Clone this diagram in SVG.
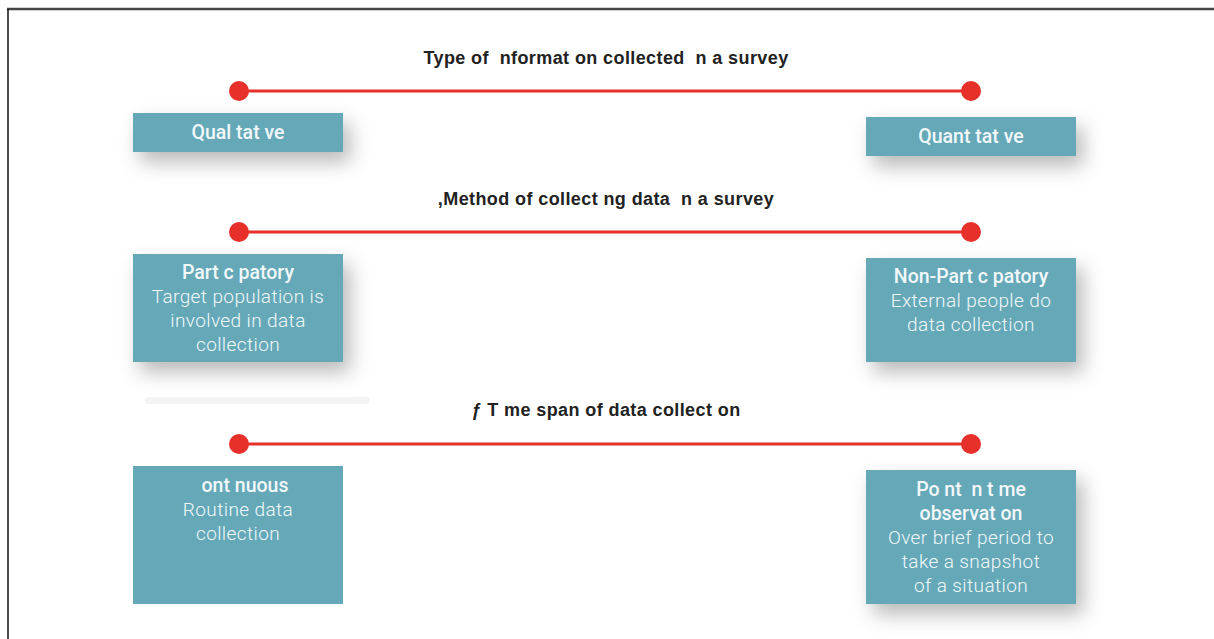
<svg xmlns="http://www.w3.org/2000/svg" width="1214" height="639" viewBox="0 0 1214 639">
<defs>
<filter id="sh" x="-50%" y="-100%" width="200%" height="300%">
<feDropShadow dx="7" dy="10" stdDeviation="10" flood-color="#000" flood-opacity="0.28"/>
</filter>
<style>
text{white-space:pre}
.title{font-family:"Liberation Sans",Arial,sans-serif;font-weight:bold;font-size:18px;fill:#222;text-anchor:middle;letter-spacing:0.4px}
.box{fill:#65A8B8}
.hd{font-family:Roboto,"Open Sans",sans-serif;font-weight:500;font-size:19.5px;fill:#F2F8FA;text-anchor:middle}
.bd{font-family:Roboto,"Open Sans",sans-serif;font-weight:300;font-size:19px;fill:#F2F8FA;text-anchor:middle;letter-spacing:0.4px}
.ln{stroke:#E8302A;stroke-width:3}
.dot{fill:#E8302A}
</style>
</defs>
<rect width="1214" height="639" fill="#fff"/>
<line x1="7" y1="9" x2="1214" y2="9" stroke="#444" stroke-width="2.5"/>
<line x1="8" y1="9" x2="8" y2="639" stroke="#111" stroke-width="1.5"/>
<rect x="145" y="397" width="225" height="7" rx="3.5" fill="#f4f4f4"/>
<g id="connectors">
<line class="ln" x1="239" y1="91" x2="971" y2="91"/>
<circle class="dot" cx="239" cy="91" r="10"/>
<circle class="dot" cx="971" cy="91" r="10"/>
<line class="ln" x1="239" y1="232" x2="971" y2="232"/>
<circle class="dot" cx="239" cy="232" r="10"/>
<circle class="dot" cx="971" cy="232" r="10"/>
<line class="ln" x1="239" y1="444" x2="971" y2="444"/>
<circle class="dot" cx="239" cy="444" r="10"/>
<circle class="dot" cx="971" cy="444" r="10"/>
</g>
<g id="title1"><text class="title" x="606" y="64" xml:space="preserve">Type of  nformat on collected  n a survey</text></g>
<g id="title2"><text class="title" x="606" y="205" xml:space="preserve">,Method of collect ng data  n a survey</text></g>
<g id="title3"><text class="title" x="606" y="416" xml:space="preserve">ƒ T me span of data collect on</text></g>
<g id="qualitative">
<rect class="box" x="133" y="113" width="210" height="39" filter="url(#sh)"/>
<text class="hd" x="238" y="139">Qual tat ve</text>
</g>
<g id="quantitative">
<rect class="box" x="866" y="117" width="210" height="39" filter="url(#sh)"/>
<text class="hd" x="971" y="143">Quant tat ve</text>
</g>
<g id="participatory">
<rect class="box" x="133" y="254" width="210" height="108" filter="url(#sh)"/>
<text class="hd" x="238" y="279">Part c patory</text>
<text class="bd" x="238" y="303">Target population is</text>
<text class="bd" x="238" y="327">involved in data</text>
<text class="bd" x="238" y="351">collection</text>
</g>
<g id="nonparticipatory">
<rect class="box" x="866" y="258" width="210" height="104" filter="url(#sh)"/>
<text class="hd" x="971" y="283">Non-Part c patory</text>
<text class="bd" x="971" y="307">External people do</text>
<text class="bd" x="971" y="331">data collection</text>
</g>
<g id="continuous">
<rect class="box" x="133" y="466" width="210" height="138"/>
<text class="hd" x="245" y="492">ont nuous</text>
<text class="bd" x="238" y="516">Routine data</text>
<text class="bd" x="238" y="540">collection</text>
</g>
<g id="pointintime">
<rect class="box" x="866" y="470" width="210" height="134" filter="url(#sh)"/>
<text class="hd" x="971" y="496" xml:space="preserve">Po nt  n t me</text>
<text class="hd" x="971" y="520">observat on</text>
<text class="bd" x="971" y="544">Over brief period to</text>
<text class="bd" x="971" y="568">take a snapshot</text>
<text class="bd" x="971" y="592">of a situation</text>
</g>
</svg>
